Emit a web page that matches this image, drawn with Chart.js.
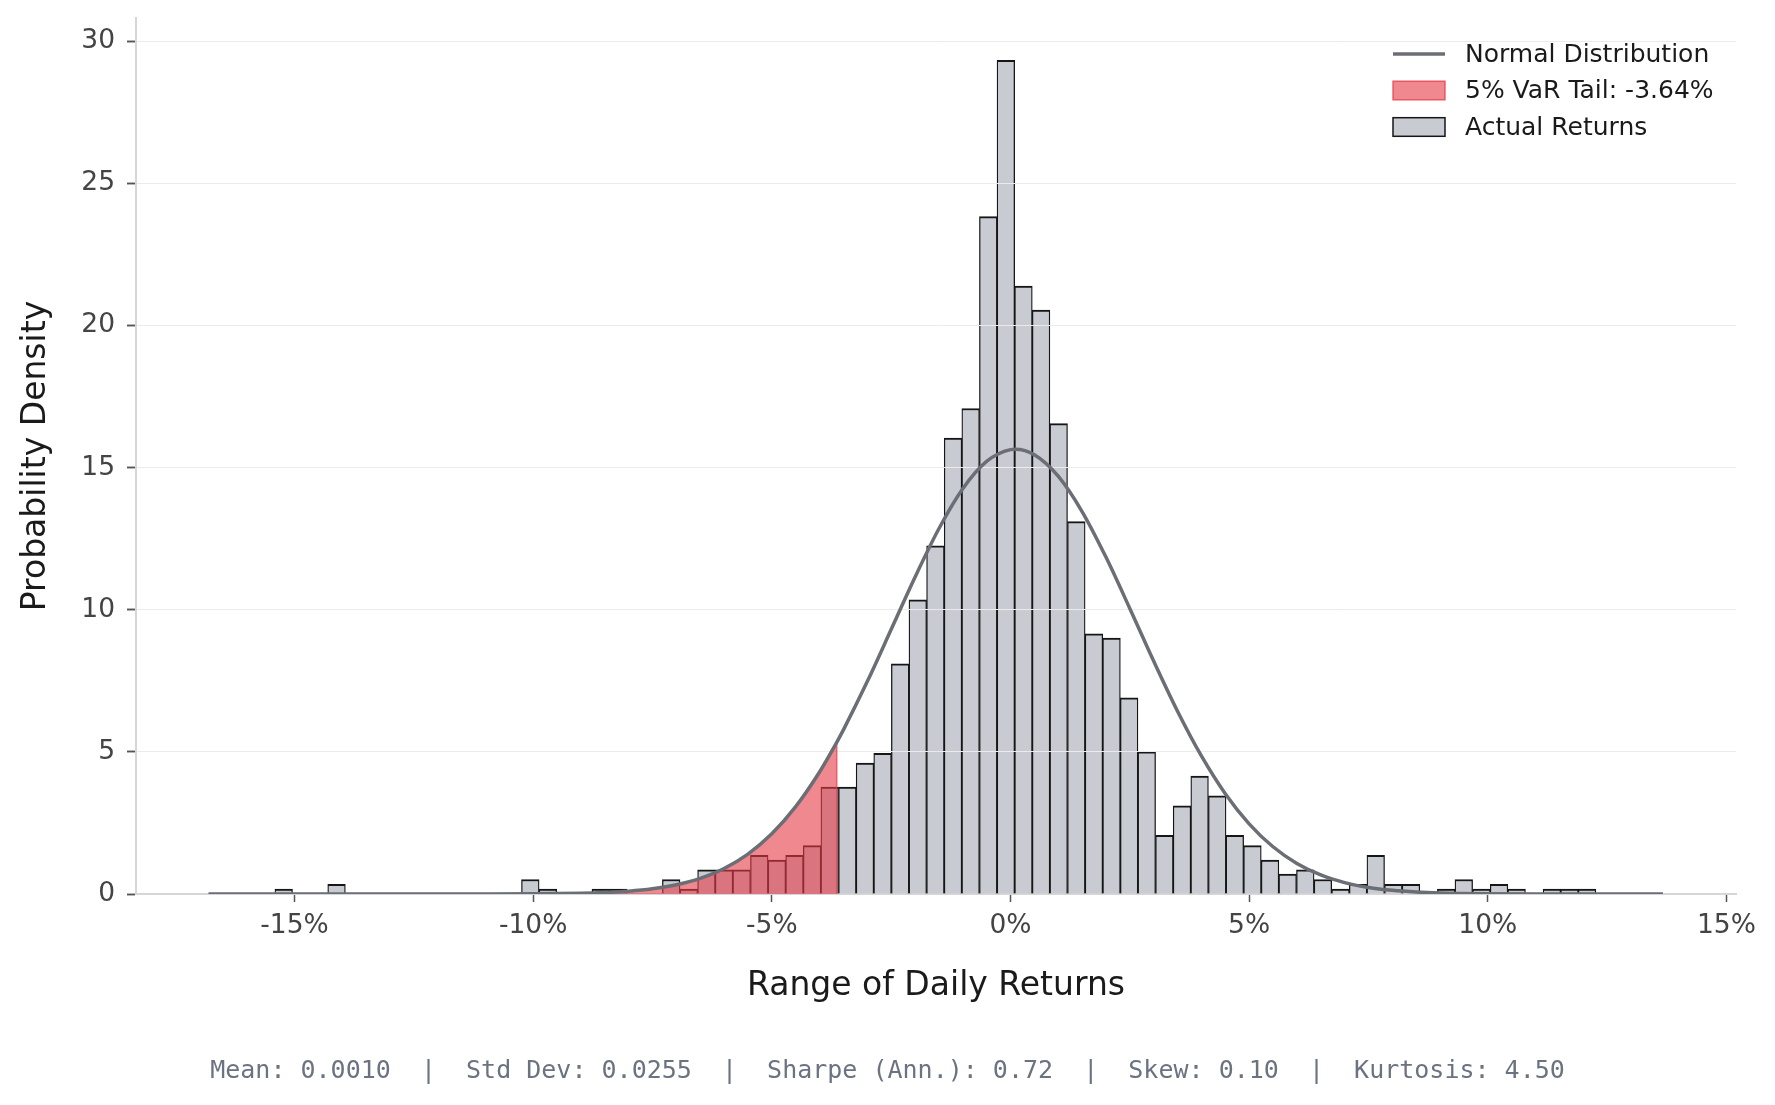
<!DOCTYPE html>
<html>
<head>
<meta charset="utf-8">
<title>Distribution of Daily Returns</title>
<script src="https://cdn.jsdelivr.net/npm/chart.js@4.4.1/dist/chart.umd.min.js"></script>
<style>
  html, body { margin: 0; padding: 0; background: #fff; overflow: hidden; }
  #wrap { width: 1775px; height: 1105px; position: relative; }
</style>
</head>
<body>
<div id="wrap"><canvas id="returnsChart"></canvas></div>
<script>
// histogram: 75 bins of 0.369% starting at -15.41% (density per bin)
const binStart = -15.41;
const binWidth = 0.369;
const binDensity = [
  0.17, 0, 0, 0.34, 0, 0, 0, 0, 0, 0,
  0, 0, 0, 0, 0.51, 0.17, 0, 0, 0.17, 0.17,
  0, 0, 0.51, 0.17, 0.85, 0.85, 0.85, 1.36, 1.19, 1.36,
  1.70, 3.76, 3.76, 4.61, 4.95, 8.10, 10.35, 12.25, 16.04, 17.08,
  23.83, 29.33, 21.39, 20.54, 16.55, 13.10, 9.15, 9.00, 6.90, 5.00,
  2.06, 3.10, 4.15, 3.45, 2.06, 1.70, 1.19, 0.70, 0.85, 0.51,
  0.17, 0.34, 1.36, 0.34, 0.34, 0, 0.17, 0.51, 0.17, 0.34,
  0.17, 0, 0.17, 0.17, 0.17
];

// fitted normal curve (x in %)
const normalX = [-16.8, -12, -11, -10, -9, -8.5, -8, -7.5, -7, -6.5, -6, -5.5, -5, -4.5, -4, -3.64,
  -3.5, -3, -2.5, -2, -1.5, -1, -0.5, 0, 0.1, 0.5, 1, 1.5, 2, 2.5, 3, 3.5, 4, 4.5, 5, 5.5,
  6, 6.5, 7, 7.5, 8, 8.5, 9, 10, 11, 13.67];
const normalY = [0, 0, 0.001, 0.006, 0.027, 0.053, 0.10, 0.185, 0.324, 0.549, 0.895, 1.404, 2.117, 3.074, 4.294, 5.337,
  5.775, 7.472, 9.304, 11.146, 12.85, 14.256, 15.218, 15.633, 15.645, 15.454, 14.70, 13.456, 11.853, 10.047, 8.195, 6.432, 4.858, 3.531, 2.470, 1.662,
  1.076, 0.671, 0.402, 0.232, 0.129, 0.069, 0.035, 0.008, 0.001, 0];

const varCutoff = -3.64;

const xTicks = [-15, -10, -5, 0, 5, 10, 15];
const yTicks = [0, 5, 10, 15, 20, 25, 30];

const statNames = ['Mean', 'Std Dev', 'Sharpe (Ann.)', 'Skew', 'Kurtosis'];
const statValues = ['0.0010', '0.0255', '0.72', '0.10', '4.50'];

const barPoints = [];
binDensity.forEach((d, i) => {
  if (d > 0) barPoints.push({ x: binStart + (i + 0.5) * binWidth, y: d });
});

const curvePoints = normalX.map((x, i) => ({ x: x, y: normalY[i] }));
const tailPoints = curvePoints.filter(p => p.x <= varCutoff);
tailPoints.push({ x: varCutoff, y: 0 });

Chart.defaults.font.family = "'DejaVu Sans', sans-serif";

// light y grid drawn over the bars, under the curve
const gridOverBars = {
  id: 'gridOverBars',
  afterDatasetDraw(chart, args) {
    if (chart.data.datasets[args.index].type !== 'bar') return;
    chart.scales.y.drawGrid(chart.chartArea);
  }
};

const cornerLegend = {
  id: 'cornerLegend',
  afterDraw(chart) {
    const ctx = chart.ctx;
    ctx.save();
    ctx.font = "25px 'DejaVu Sans'";
    ctx.textBaseline = 'middle';
    chart.data.datasets.forEach((ds, i) => {
      const y = 54 + i * 36.5;
      if (ds.type === 'line' && !ds.fill) {
        ctx.strokeStyle = ds.borderColor;
        ctx.lineWidth = ds.borderWidth;
        ctx.beginPath();
        ctx.moveTo(1393, y);
        ctx.lineTo(1445, y);
        ctx.stroke();
      } else {
        ctx.fillStyle = ds.backgroundColor;
        ctx.fillRect(1393, y - 9.3, 52, 18.6);
        ctx.strokeStyle = ds.borderColor;
        ctx.lineWidth = 1.5;
        ctx.strokeRect(1393, y - 9.3, 52, 18.6);
      }
      ctx.fillStyle = '#1a1a1a';
      ctx.fillText(ds.label, 1465, y + 1);
    });
    ctx.restore();
  }
};

const statsFooter = {
  id: 'statsFooter',
  afterDraw(chart) {
    const ctx = chart.ctx;
    ctx.save();
    ctx.font = "25px 'DejaVu Sans Mono'";
    ctx.fillStyle = '#6b7280';
    ctx.textAlign = 'center';
    ctx.textBaseline = 'middle';
    const text = statNames.map((n, i) => n + ': ' + statValues[i]).join('  |  ');
    ctx.fillText(text, chart.width / 2, 1071);
    ctx.restore();
  }
};

new Chart(document.getElementById('returnsChart'), {
  data: {
    datasets: [
      {
        type: 'line',
        label: 'Normal Distribution',
        data: curvePoints,
        borderColor: '#6b6e74',
        borderWidth: 3.5,
        pointRadius: 0,
        cubicInterpolationMode: 'monotone',
        fill: false
      },
      {
        type: 'line',
        label: '5% VaR Tail: ' + varCutoff.toFixed(2) + '%',
        data: tailPoints,
        borderColor: 'rgba(230, 57, 70, 0.75)',
        backgroundColor: 'rgba(230, 57, 70, 0.6)',
        borderWidth: 1.5,
        pointRadius: 0,
        tension: 0,
        fill: 'origin'
      },
      {
        type: 'bar',
        label: 'Actual Returns',
        data: barPoints,
        backgroundColor: '#c8ccd2',
        borderColor: '#161616',
        borderWidth: { top: 2, left: 1.3, right: 1.3, bottom: 0 },
        barPercentage: 1,
        categoryPercentage: 1
      }
    ]
  },
  options: {
    responsive: true,
    maintainAspectRatio: false,
    animation: false,
    layout: { padding: { left: 0, right: 39, top: 18, bottom: 0 } },
    plugins: {
      legend: { display: false },
      tooltip: { enabled: false }
    },
    scales: {
      x: {
        type: 'linear',
        min: -18.32,
        max: 15.2,
        offset: false,
        z: 1,
        afterBuildTicks: s => { s.ticks = xTicks.map(v => ({ value: v })); },
        afterFit: s => {
          s.height = 211;
          s.paddingLeft = 0;
          s.paddingRight = 0;
        },
        ticks: {
          color: '#444',
          font: { size: 26.5 },
          padding: 8,
          maxRotation: 0,
          callback: v => v + '%'
        },
        grid: {
          offset: false,
          drawOnChartArea: false,
          drawTicks: true,
          tickLength: 8,
          tickColor: '#555',
          tickWidth: 1.5
        },
        border: { display: true, color: '#d6d6da', width: 2 },
        title: {
          display: true,
          text: 'Range of Daily Returns',
          color: '#1a1a1a',
          font: { size: 33 },
          padding: { top: 0, bottom: 99.2 }
        }
      },
      y: {
        type: 'linear',
        min: 0,
        max: 30.82,
        afterBuildTicks: s => { s.ticks = yTicks.map(v => ({ value: v })); },
        afterFit: s => {
          s.width = 136;
          s.paddingTop = 0;
          s.paddingBottom = 0;
        },
        ticks: {
          color: '#444',
          font: { size: 26.5 },
          padding: 12
        },
        grid: {
          color: ctx => (ctx.tick && ctx.tick.value === 0) ? 'rgba(0,0,0,0)' : '#ebebeb',
          lineWidth: 1,
          drawTicks: true,
          tickLength: 9,
          tickColor: '#555',
          tickWidth: 1.5
        },
        border: { display: true, color: '#d6d6da', width: 2 },
        title: {
          display: true,
          text: 'Probability Density',
          color: '#1a1a1a',
          font: { size: 33 },
          padding: { top: 16.5, bottom: 0 }
        }
      }
    }
  },
  plugins: [gridOverBars, cornerLegend, statsFooter]
});
</script>
</body>
</html>
